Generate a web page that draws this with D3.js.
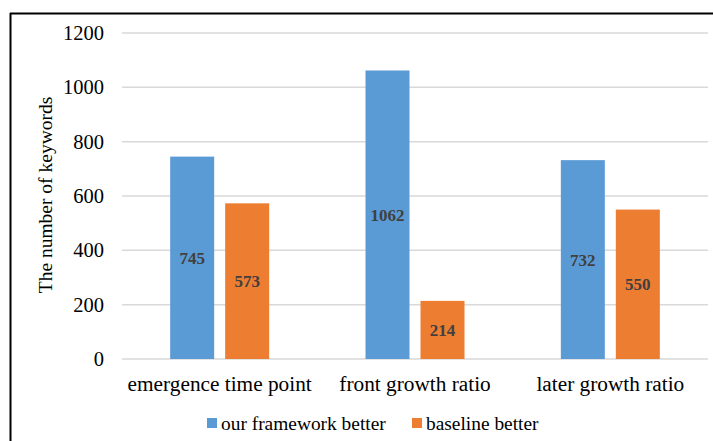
<!DOCTYPE html>
<html><head><meta charset="utf-8">
<script src="https://cdn.jsdelivr.net/npm/d3@7"></script>
<style>body{margin:0;background:#fff}svg{display:block}</style>
</head><body>
<svg id="c" width="713" height="441"></svg>
<script>
const categories = ["emergence time point", "front growth ratio", "later growth ratio"];
const seriesNames = ["our framework better", "baseline better"];
const ours = [745, 1062, 732];
const baseline = [573, 214, 550];
const yTicks = [0, 200, 400, 600, 800, 1000, 1200];
const colors = ["#5b9bd5", "#ed7d31"];
const FONT = "'Times New Roman', 'Liberation Serif', Tinos, 'DejaVu Serif', serif";

const svg = d3.select("#c").style("font-family", FONT);
svg.append("line").attr("x1",10).attr("x2",713).attr("y1",13.5).attr("y2",13.5).attr("stroke","#000").attr("stroke-width",2);
svg.append("line").attr("x1",10.5).attr("x2",10.5).attr("y1",13).attr("y2",441).attr("stroke","#000").attr("stroke-width",2);

const x0 = d3.scaleBand().domain(categories).range([122, 708]);
const y = d3.scaleLinear().domain([0, 1200]).range([359, 33]);
const series = [ours, baseline];
const bw = 44, gap = 11;

svg.append("g").selectAll("line").data(yTicks).join("line")
  .attr("x1",122).attr("x2",708).attr("y1",d=>y(d)).attr("y2",d=>y(d))
  .attr("stroke","#d9d9d9").attr("stroke-width",1.5);

const ya = svg.append("g").attr("transform","translate(104,0)")
  .call(d3.axisLeft(y).tickValues(yTicks).tickFormat(d3.format("d")).tickSize(0).tickPadding(0));
ya.attr("font-family", FONT);
ya.select(".domain").remove();
ya.selectAll("text").attr("font-size",20.5).attr("fill","#000");

svg.append("text").attr("transform","translate(45,195) rotate(-90)")
  .attr("text-anchor","middle").attr("font-size",19.5).attr("fill","#000").attr("dy","0.35em")
  .text("The number of keywords");

series.forEach((vals, si) => {
  const g = svg.append("g");
  const xOff = si === 0 ? -(gap/2 + bw) : gap/2;
  g.selectAll("rect").data(vals).join("rect")
    .attr("x",(d,i)=>x0(categories[i]) + x0.bandwidth()/2 + xOff)
    .attr("width",bw)
    .attr("y",d=>y(d)).attr("height",d=>y(0)-y(d))
    .attr("fill",colors[si]);
  g.selectAll("text").data(vals).join("text")
    .attr("x",(d,i)=>x0(categories[i]) + x0.bandwidth()/2 + xOff + bw/2)
    .attr("y",d=>(y(d)+y(0))/2).attr("dy","0.35em")
    .attr("text-anchor","middle").attr("font-size",17).attr("font-weight","bold").attr("fill","#404040")
    .text(d=>d);
});

const xa = svg.append("g").attr("transform","translate(0,359)")
  .call(d3.axisBottom(x0).tickSize(0).tickPadding(0));
xa.attr("font-family", FONT);
xa.select(".domain").remove();
xa.selectAll("text").attr("y",25).attr("dy","0.35em").attr("font-size",21.3).attr("fill","#000");

const legX = [207, 412];
const lg = svg.append("g");
seriesNames.forEach((n,i)=>{
  lg.append("rect").attr("x",legX[i]).attr("y",418).attr("width",10).attr("height",10).attr("fill",colors[i]);
  lg.append("text").attr("x",legX[i]+14).attr("y",423).attr("dy","0.35em").attr("font-size",19.4).attr("fill","#000").text(n);
});
</script>
</body></html>
